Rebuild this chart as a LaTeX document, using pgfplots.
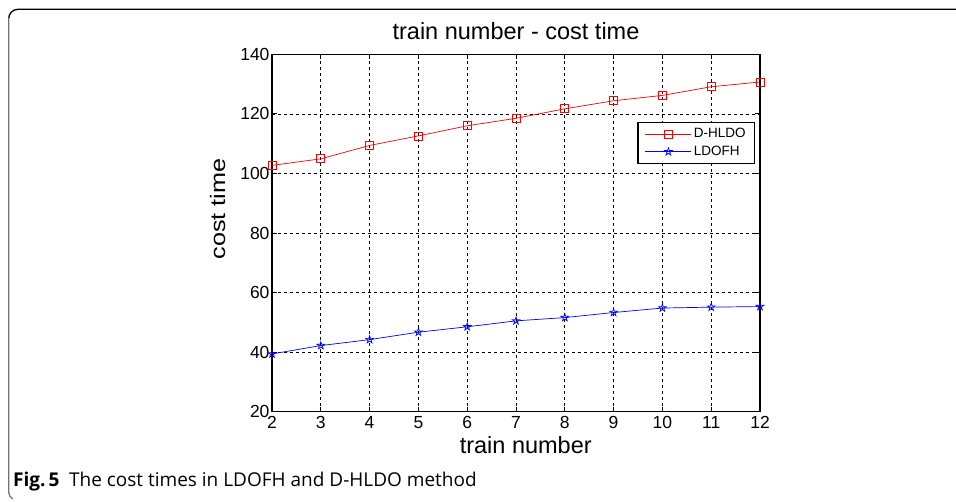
\documentclass[border=0pt]{standalone}
\usepackage{pgfplots}
\pgfplotsset{compat=1.18}
\usepackage{graphicx}
\usepackage{fontspec}
\setmainfont{Liberation Sans}
\newfontfamily\capfont{Open Sans}
\pgfdeclareplotmark{pentagram}{%
  \pgfpathmoveto{\pgfpointpolar{90}{\pgfplotmarksize}}%
  \pgfpathlineto{\pgfpointpolar{126}{0.382\pgfplotmarksize}}%
  \pgfpathlineto{\pgfpointpolar{162}{\pgfplotmarksize}}%
  \pgfpathlineto{\pgfpointpolar{198}{0.382\pgfplotmarksize}}%
  \pgfpathlineto{\pgfpointpolar{234}{\pgfplotmarksize}}%
  \pgfpathlineto{\pgfpointpolar{270}{0.382\pgfplotmarksize}}%
  \pgfpathlineto{\pgfpointpolar{306}{\pgfplotmarksize}}%
  \pgfpathlineto{\pgfpointpolar{342}{0.382\pgfplotmarksize}}%
  \pgfpathlineto{\pgfpointpolar{18}{\pgfplotmarksize}}%
  \pgfpathlineto{\pgfpointpolar{54}{0.382\pgfplotmarksize}}%
  \pgfpathclose\pgfusepathqstroke}
\begin{document}
\begin{tikzpicture}
\useasboundingbox (0pt,0pt) rectangle (956pt,502pt);
\fill[white] (0pt,0pt) rectangle (956pt,502pt);
% frame
\draw[black,line width=1.3pt] (956pt,492.7pt) -- (18pt,492.7pt) arc[start angle=90,end angle=180,radius=9.3pt];
\draw[black!55,line width=1.3pt] (8.7pt,483.4pt) -- (8.7pt,10pt) arc[start angle=180,end angle=240,radius=8pt];
% caption
\node[anchor=base west,inner sep=0pt] at (13pt,15.5pt) {\capfont\fontsize{19}{22}\selectfont\textbf{Fig.\,5}\hspace{0.5em}The cost times in LDOFH and D-HLDO method};
\begin{axis}[
  at={(272pt,90.3pt)}, anchor=south west,
  scale only axis, width=488pt, height=357.4pt,
  xmin=2, xmax=12, ymin=20, ymax=140,
  xtick={2,...,12}, ytick={20,40,...,140},
  axis line style={black,line width=1.2pt},
  tick style={black,line width=0.8pt},
  major tick length=5pt,
  grid=major,
  major grid style={black,line width=0.7pt,dash pattern=on 3pt off 3pt},
  tick label style={font=\fontsize{17.5}{19}\selectfont},
  /pgf/number format/assume math mode=true,
  yticklabel style={xshift=1pt},
  xticklabel style={yshift=-1pt},
  title={train number - cost time},
  title style={font=\fontsize{23.5}{25}\selectfont, at={(axis description cs:0.5,1)}, anchor=base, yshift=9pt},
  xlabel={train number},
  xlabel style={font=\fontsize{23.5}{25}\selectfont, at={(axis description cs:0.52,-0.118)}, anchor=base},
  ylabel={\scalebox{1.2}[1]{cost time}},
  ylabel style={font=\fontsize{21}{24}\selectfont, at={(axis description cs:-0.0963,0.567)}, anchor=base},
  legend style={at={(0.99,0.811)}, anchor=north east, draw=black, line width=1.2pt,
    font=\fontsize{13.5}{15}\selectfont, inner xsep=7pt, inner ysep=4pt, row sep=3pt,
    nodes={line width=0.6pt, inner sep=2pt}},
  legend cell align=left,
  legend image code/.code={\draw[#1] (0pt,0pt) -- (46pt,0pt); \draw[#1,mark repeat=2,mark phase=2] plot coordinates {(0pt,0pt) (23pt,0pt) (46pt,0pt)};},
]
\addplot[red, line width=0.7pt, mark=square, mark size=4pt, mark options={solid,line width=0.7pt}] coordinates {
(2,102.7) (3,104.9) (4,109.4) (5,112.6) (6,116.0) (7,118.5) (8,121.7) (9,124.4) (10,126.2) (11,129.1) (12,130.7)};
\addlegendentry{D-HLDO}
\addplot[blue, line width=0.7pt, mark=pentagram, mark size=4pt, mark options={solid,line width=0.7pt}] coordinates {
(2,39.4) (3,42.2) (4,44.2) (5,46.7) (6,48.5) (7,50.5) (8,51.6) (9,53.3) (10,54.8) (11,55.1) (12,55.3)};
\addlegendentry{LDOFH}
\end{axis}
\end{tikzpicture}
\end{document}
